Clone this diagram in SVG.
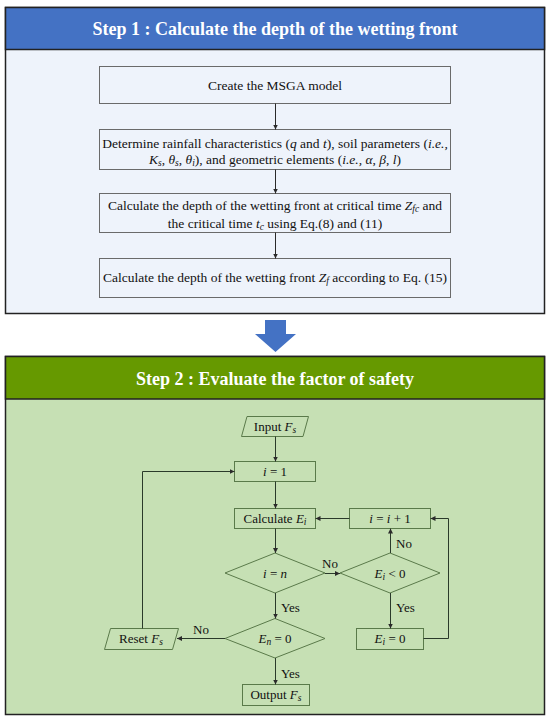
<svg xmlns="http://www.w3.org/2000/svg" width="550" height="723" viewBox="0 0 550 723">
<style>
text{font-family:"Liberation Serif","Times New Roman",serif;fill:#111}
.title{font-size:18px;font-weight:bold;fill:#fff;text-anchor:middle}
.t1{font-size:13.5px;text-anchor:middle}
.t2{font-size:13px;text-anchor:middle}
.lbl{font-size:13px}
.box1{fill:#eef3fb;stroke:#6a6a6a;stroke-width:1}
.box2{fill:#c6e0b4;stroke:#5a7a4a;stroke-width:1}
.ln{fill:none;stroke:#2a2a2a;stroke-width:1}
.ln2{fill:none;stroke:#2a3a2a;stroke-width:1}
.i{font-style:italic}
.sub{font-size:9.5px;font-style:italic}
</style>
<defs>
<marker id="ah" viewBox="0 0 6 6" refX="6" refY="3" markerWidth="5" markerHeight="5" orient="auto" markerUnits="userSpaceOnUse">
<path d="M0,0 L6,3 L0,6 z" fill="#2a2a2a"/>
</marker>
</defs>

<g id="panel1">
<rect x="5.5" y="7.5" width="539" height="306" fill="#eef3fb" stroke="#222" stroke-width="1.5"/>
<rect x="5.5" y="7.5" width="539" height="42" fill="#4472c4" stroke="#222" stroke-width="1.5"/>
<text class="title" x="275" y="35">Step 1 : Calculate the depth of the wetting front</text>
</g>

<g id="n1"><rect class="box1" x="99.5" y="66.5" width="351" height="37"/>
<text class="t1" x="275" y="90">Create the MSGA model</text></g>

<g id="n2"><rect class="box1" x="99.5" y="129.5" width="351" height="40"/>
<text class="t1" x="275" y="147.5">Determine rainfall characteristics (<tspan class="i">q</tspan> and <tspan class="i">t</tspan>), soil parameters (<tspan class="i">i.e.,</tspan></text>
<text class="t1" x="275" y="164"><tspan class="i">K</tspan><tspan class="sub" dy="2">s</tspan><tspan dy="-2">, </tspan><tspan class="i">θ</tspan><tspan class="sub" dy="2">s</tspan><tspan dy="-2">, </tspan><tspan class="i">θ</tspan><tspan class="sub" dy="2">i</tspan><tspan dy="-2">), and geometric elements (</tspan><tspan class="i">i.e., α</tspan>, <tspan class="i">β</tspan>, <tspan class="i">l</tspan>)</text></g>

<g id="n3"><rect class="box1" x="99.5" y="193.5" width="351" height="39"/>
<text class="t1" x="275" y="210">Calculate the depth of the wetting front at critical time <tspan class="i">Z</tspan><tspan class="sub" dy="2">fc</tspan><tspan dy="-2"> and</tspan></text>
<text class="t1" x="275" y="227.5">the critical time <tspan class="i">t</tspan><tspan class="sub" dy="2">c</tspan><tspan dy="-2"> using Eq.(8) and (11)</tspan></text></g>

<g id="n4"><rect class="box1" x="99.5" y="258.5" width="351" height="39"/>
<text class="t1" x="275" y="282">Calculate the depth of the wetting front <tspan class="i">Z</tspan><tspan class="sub" dy="2">f</tspan><tspan dy="-2">  according to Eq. (15)</tspan></text></g>

<g id="bigarrow">
<path d="M265,320 L286,320 L286,334 L296,334 L275.5,352 L255,334 L265,334 z" fill="#4472c4"/>
</g>

<g id="panel2">
<rect x="5.5" y="356.5" width="539" height="358" fill="#c6e0b4" stroke="#222" stroke-width="1.5"/>
<rect x="5.5" y="356.5" width="539" height="42.5" fill="#669900" stroke="#222" stroke-width="1.5"/>
<text class="title" x="275" y="384.5">Step 2 : Evaluate the factor of safety</text>
</g>

<g id="input"><polygon class="box2" points="247,416.5 308.5,416.5 303,436.5 241.5,436.5"/>
<text class="t2" x="275" y="431">Input <tspan class="i">F</tspan><tspan class="sub" dy="2">s</tspan></text></g>

<g id="init"><rect class="box2" x="234.5" y="461.5" width="81" height="20"/>
<text class="t2" x="275" y="476"><tspan class="i">i</tspan> = 1</text></g>

<g id="calc"><rect class="box2" x="234.5" y="508.5" width="81" height="20"/>
<text class="t2" x="275" y="523">Calculate <tspan class="i">E</tspan><tspan class="sub" dy="2">i</tspan></text></g>

<g id="incr"><rect class="box2" x="349.5" y="508.5" width="81" height="20"/>
<text class="t2" x="390" y="523"><tspan class="i">i</tspan> = <tspan class="i">i</tspan> + 1</text></g>

<g id="d1"><polygon class="box2" points="275,553 325,573 275,593 225,573"/>
<text class="t2" x="275" y="577.5"><tspan class="i">i</tspan> = <tspan class="i">n</tspan></text></g>

<g id="d2"><polygon class="box2" points="390,553 440,573 390,593 340,573"/>
<text class="t2" x="390" y="577.5"><tspan class="i">E</tspan><tspan class="sub" dy="2">i</tspan><tspan dy="-2"> &lt; 0</tspan></text></g>

<g id="d3"><polygon class="box2" points="275,618.5 325,638.5 275,658 225,638.5"/>
<text class="t2" x="275" y="643"><tspan class="i">E</tspan><tspan class="sub" dy="2">n</tspan><tspan dy="-2"> = 0</tspan></text></g>

<g id="zero"><rect class="box2" x="356.5" y="628.5" width="67" height="21"/>
<text class="t2" x="390" y="643"><tspan class="i">E</tspan><tspan class="sub" dy="2">i</tspan><tspan dy="-2"> = 0</tspan></text></g>

<g id="reset"><polygon class="box2" points="110.5,628.5 178.5,628.5 172.5,649.5 104.5,649.5"/>
<text class="t2" x="141" y="643">Reset <tspan class="i">F</tspan><tspan class="sub" dy="2">s</tspan></text></g>

<g id="output"><rect class="box2" x="242.5" y="684.5" width="67" height="21"/>
<text class="t2" x="276" y="699">Output <tspan class="i">F</tspan><tspan class="sub" dy="2">s</tspan></text></g>

<g id="connectors">
<line class="ln" x1="275.5" y1="103.5" x2="275.5" y2="129.5" marker-end="url(#ah)"/>
<line class="ln" x1="275.5" y1="169.5" x2="275.5" y2="193.5" marker-end="url(#ah)"/>
<line class="ln" x1="275.5" y1="232.5" x2="275.5" y2="258.5" marker-end="url(#ah)"/>

<line class="ln2" x1="275.5" y1="436.5" x2="275.5" y2="461.5" marker-end="url(#ah)"/>
<line class="ln2" x1="275.5" y1="481.5" x2="275.5" y2="508.5" marker-end="url(#ah)"/>
<line class="ln2" x1="275.5" y1="528.5" x2="275.5" y2="553" marker-end="url(#ah)"/>
<line class="ln2" x1="349.5" y1="518.5" x2="315.5" y2="518.5" marker-end="url(#ah)"/>
<line class="ln2" x1="325" y1="573.5" x2="340" y2="573.5" marker-end="url(#ah)"/>
<line class="ln2" x1="390.5" y1="553" x2="390.5" y2="528.5" marker-end="url(#ah)"/>
<line class="ln2" x1="390.5" y1="593" x2="390.5" y2="628.5" marker-end="url(#ah)"/>
<polyline class="ln2" points="423.5,638.5 448.5,638.5 448.5,518.5 430.5,518.5" marker-end="url(#ah)"/>
<line class="ln2" x1="275.5" y1="593" x2="275.5" y2="618.5" marker-end="url(#ah)"/>
<line class="ln2" x1="225" y1="638.5" x2="177" y2="638.5" marker-end="url(#ah)"/>
<polyline class="ln2" points="142.5,628.5 142.5,471.5 234.5,471.5" marker-end="url(#ah)"/>
<line class="ln2" x1="275.5" y1="658" x2="275.5" y2="684.5" marker-end="url(#ah)"/>

<text class="lbl" x="322" y="568">No</text>
<text class="lbl" x="396" y="548">No</text>
<text class="lbl" x="281" y="612">Yes</text>
<text class="lbl" x="396" y="612">Yes</text>
<text class="lbl" x="193" y="634">No</text>
<text class="lbl" x="281" y="678">Yes</text>
</g>
</svg>
